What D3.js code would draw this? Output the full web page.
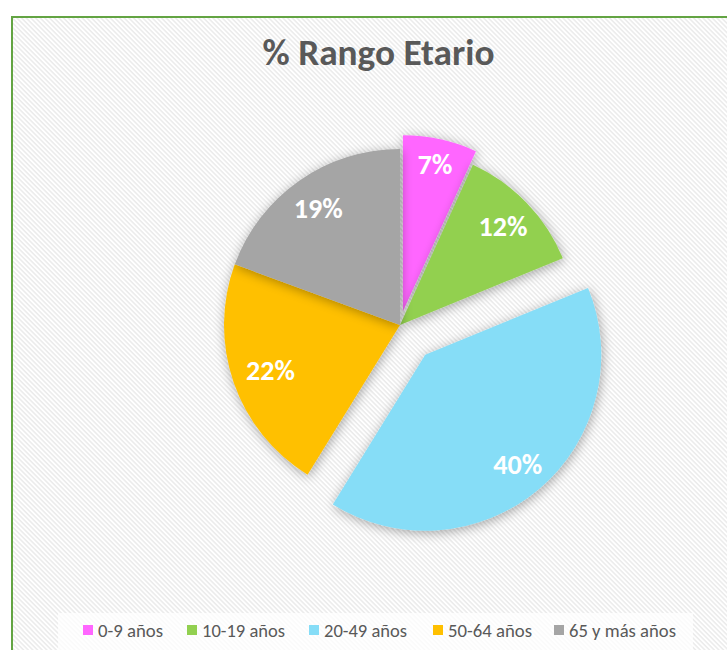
<!DOCTYPE html>
<html>
<head>
<meta charset="utf-8">
<script src="https://cdn.jsdelivr.net/npm/d3@7"></script>
<style>
  html, body { margin: 0; padding: 0; background: #ffffff; }
  svg { display: block; }
</style>
</head>
<body>
<svg id="chart" width="727" height="650"></svg>
<script>
// ---- data ----
const categories = ["0-9 años", "10-19 años", "20-49 años", "50-64 años", "65 y más años"];
const values = [6.8, 12.0, 40.0, 21.8, 19.4];
const valueLabels = ["7%", "12%", "40%", "22%", "19%"];
const title = "% Rango Etario";

// ---- styling / layout ----
const colors = ["#FF66FF", "#92D050", "#86DDF7", "#FFC000", "#A5A5A5"];
const explodeBy = { "0-9 años": 14, "20-49 años": 39 };
const labelRadiusBy = { "0-9 años": 151, "50-64 años": 137 };
const W = 727, H = 650;
const cx = 400, cy = 325, R = 176, labelR = 143;
const fontStack = "Carlito, Calibri, 'Liberation Sans Narrow', Lato, 'Open Sans', sans-serif";

const svg = d3.select("#chart");
const defs = svg.append("defs");

// diagonal stripe background
const pat = defs.append("pattern")
  .attr("id", "stripes")
  .attr("patternUnits", "userSpaceOnUse")
  .attr("width", 3.3).attr("height", 3.3)
  .attr("patternTransform", "rotate(45)");
pat.append("rect").attr("width", 3.3).attr("height", 3.3).attr("fill", "#ffffff");
pat.append("rect").attr("width", 3.3).attr("height", 1.5).attr("fill", "#ebebeb");

// soft shadow
const f = defs.append("filter").attr("id", "shadow")
  .attr("x", "-30%").attr("y", "-30%").attr("width", "160%").attr("height", "160%");
f.append("feGaussianBlur").attr("in", "SourceAlpha").attr("stdDeviation", 6).attr("result", "blur");
f.append("feOffset").attr("in", "blur").attr("dx", 1).attr("dy", 2).attr("result", "off");
f.append("feComponentTransfer").attr("in", "off").attr("result", "sh")
  .append("feFuncA").attr("type", "linear").attr("slope", 0.35);
const merge = f.append("feMerge");
merge.append("feMergeNode").attr("in", "sh");
merge.append("feMergeNode").attr("in", "SourceGraphic");

// chart area
svg.append("rect")
  .attr("x", 12).attr("y", 17)
  .attr("width", W + 20).attr("height", H + 20)
  .attr("fill", "url(#stripes)")
  .attr("stroke", "#63A443").attr("stroke-width", 2);

// title
svg.append("text")
  .attr("x", 378.5).attr("y", 65)
  .attr("text-anchor", "middle")
  .attr("font-family", fontStack)
  .attr("font-weight", "bold")
  .attr("font-size", 36)
  .attr("fill", "#595959")
  .attr("textLength", 232)
  .attr("lengthAdjust", "spacingAndGlyphs")
  .text(title);

// pie
const data = categories.map((c, i) => ({ cat: c, value: values[i], label: valueLabels[i], color: colors[i] }));
const pie = d3.pie().sort(null).value(d => d.value);
const arcs = pie(data);
const arc = d3.arc().innerRadius(0).outerRadius(R);

function offset(d) {
  const e = explodeBy[d.data.cat] || 0;
  const a = (d.startAngle + d.endAngle) / 2;
  return [Math.sin(a) * e, -Math.cos(a) * e];
}
function labelPos(d) {
  const r = labelRadiusBy[d.data.cat] || labelR;
  return d3.arc().innerRadius(r).outerRadius(r).centroid(d);
}

const g = svg.append("g").attr("transform", `translate(${cx},${cy})`);
const slices = g.selectAll("g.slice").data(arcs).enter().append("g")
  .attr("class", "slice")
  .attr("transform", d => { const o = offset(d); return `translate(${o[0]},${o[1]})`; });

slices.append("path")
  .attr("d", arc)
  .attr("fill", d => d.data.color)
  .attr("filter", "url(#shadow)");

slices.append("text")
  .attr("transform", d => `translate(${labelPos(d)})`)
  .attr("text-anchor", "middle")
  .attr("dy", "0.35em")
  .attr("font-family", fontStack)
  .attr("font-weight", "bold")
  .attr("font-size", 28)
  .attr("fill", "#ffffff")
  .attr("textLength", d => d.data.label.length === 2 ? 35 : 49)
  .attr("lengthAdjust", "spacingAndGlyphs")
  .text(d => d.data.label);

// legend
const legendX = [83, 187, 309, 433, 554];
const legendW = [65, 83, 83, 84, 107];
const lg = svg.append("g");
lg.append("rect")
  .attr("x", 58).attr("y", 613)
  .attr("width", 635).attr("height", 45)
  .attr("fill", "#ffffff").attr("fill-opacity", 0.75);
const items = lg.selectAll("g.item").data(data).enter().append("g")
  .attr("class", "item")
  .attr("transform", (d, i) => `translate(${legendX[i]},0)`);
items.append("rect")
  .attr("x", 0).attr("y", 625)
  .attr("width", 10).attr("height", 10)
  .attr("fill", d => d.color);
items.append("text")
  .attr("x", 15).attr("y", 636.5)
  .attr("font-family", fontStack)
  .attr("font-size", 18)
  .attr("fill", "#595959")
  .attr("textLength", (d, i) => legendW[i])
  .attr("lengthAdjust", "spacingAndGlyphs")
  .text(d => d.cat);
</script>
</body>
</html>
